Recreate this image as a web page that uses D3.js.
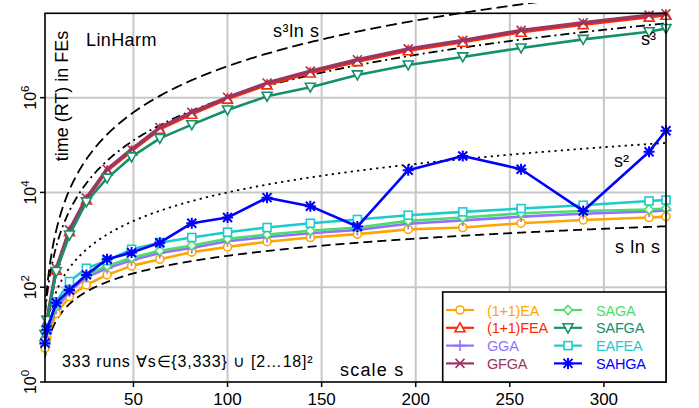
<!DOCTYPE html>
<html><head><meta charset="utf-8">
<script src="https://cdn.jsdelivr.net/npm/d3@7"></script>
<style>
html,body{margin:0;padding:0;background:#fff;}
svg{display:block;font-family:"Liberation Sans",Arial,Helvetica,sans-serif;}
</style></head>
<body><svg id="c" width="699" height="408"></svg>
<script>
// ---- data ----
const scales = [3,4,9,16,25,36,49,64,81,100,121,144,169,196,225,256,289,324,333];
const ea     = [5.2,8.9,28,63,112,182,282,389,550,708,912,1120,1320,1660,1820,2240,2630,2950,3090];
const fea    = [9,18,229,1480,6920,28200,74100,214000,447000,933000,1.86e6,3.31e6,5.75e6,9.77e6,1.48e7,2.40e7,3.47e7,5.01e7,5.50e7];
const gga    = [6.3,11,35,81,162,251,372,525,676,933,1150,1380,1620,2190,2570,3090,3550,3980,4170];
const gfga   = [10,20,251,1620,7590,30900,81300,234000,490000,1.02e6,2.04e6,3.63e6,6.31e6,1.07e7,1.62e7,2.63e7,3.80e7,5.50e7,5.90e7];
const saga   = [7.1,12,40,91,182,282,417,589,759,1050,1290,1550,1820,2510,2950,3630,4070,4370,4570];
const safga  = [10,20,214,1260,6310,20000,56200,138000,269000,550000,1.07e6,1.66e6,3.02e6,4.90e6,7.24e6,1.12e7,1.70e7,2.45e7,2.88e7];
const eafea  = [7.1,13,49,132,251,363,631,871,1120,1450,1820,2240,2690,3310,3890,4570,5370,6610,6920];
const sahga  = [6.6,12.6,47,87,182,389,537,871,2240,2950,7760,5130,1910,29500,58900,30900,4070,72400,200000];
const seriesNames = ["(1+1)EA","(1+1)FEA","GGA","GFGA","SAGA","SAFGA","EAFEA","SAHGA"];
const seriesData  = [ea,fea,gga,gfga,saga,safga,eafea,sahga];
const seriesColors = ["#ffa500","#ff2a00","#9370ff","#9b3563","#4cdc6c","#14906a","#1ccccc","#0000ff"];
const seriesMarks  = ["circle","triUp","plus","cross","diamond","triDown","square","star"];
const xTicks = [50,100,150,200,250,300];
const yTickExps = [0,2,4,6];
const refNames = ["s³ln s","s³","s²","s ln s"];

// ---- layout ----
const svg = d3.select("#c");
const L=45, R=666, T=13.3, B=382;
const x = d3.scaleLinear().domain([3,333]).range([L,R]);
const y = d3.scaleLog().domain([1,Math.pow(10,7.78)]).range([B,T]);

// grid
const grid = svg.append("g").attr("stroke","#c8c8c8").attr("stroke-width",2);
xTicks.forEach(t=>grid.append("line").attr("x1",x(t)).attr("x2",x(t)).attr("y1",T).attr("y2",B));
yTickExps.filter(e=>e>0).forEach(e=>grid.append("line").attr("x1",L).attr("x2",R).attr("y1",y(Math.pow(10,e))).attr("y2",y(Math.pow(10,e))));

// clip
svg.append("clipPath").attr("id","cl").append("rect").attr("x",L).attr("y",3).attr("width",R-L+20).attr("height",B-3);

// reference curves
const dense = d3.range(3,333.01,0.5);
const refFns = [s=>s*s*s*Math.log(s), s=>s*s*s, s=>s*s, s=>s*Math.log(s)];
const refDash = ["11,5","9,4,2,4","2.2,4.2","9,5"];
const line = d3.line().x(d=>x(d[0])).y(d=>y(d[1]));
const rg = svg.append("g").attr("clip-path","url(#cl)");
refFns.forEach((f,i)=>{
  rg.append("path").attr("d",line(dense.map(s=>[s,f(s)]))).attr("fill","none")
    .attr("stroke","#000").attr("stroke-width",1.8).attr("stroke-dasharray",refDash[i]);
});

// marker generator
function marker(g,type,col,cx,cy){
  const r=4.5;
  const st={stroke:col,"stroke-width":1.6,fill:"#fff"};
  let el;
  if(type==="circle") el=g.append("circle").attr("cx",cx).attr("cy",cy).attr("r",r-0.5);
  else if(type==="triUp") el=g.append("path").attr("d",`M${cx},${cy-r-0.5}L${cx+r+0.5},${cy+r-0.5}L${cx-r-0.5},${cy+r-0.5}Z`);
  else if(type==="triDown") el=g.append("path").attr("d",`M${cx},${cy+r+0.5}L${cx+r+0.5},${cy-r+0.5}L${cx-r-0.5},${cy-r+0.5}Z`);
  else if(type==="diamond") el=g.append("path").attr("d",`M${cx},${cy-r}L${cx+r},${cy}L${cx},${cy+r}L${cx-r},${cy}Z`);
  else if(type==="square") el=g.append("rect").attr("x",cx-r+0.5).attr("y",cy-r+0.5).attr("width",2*r-1).attr("height",2*r-1);
  else if(type==="plus") {el=g.append("path").attr("d",`M${cx-r-1},${cy}H${cx+r+1}M${cx},${cy-r-1}V${cy+r+1}`); st.fill="none";}
  else if(type==="cross") {el=g.append("path").attr("d",`M${cx-r},${cy-r}L${cx+r},${cy+r}M${cx-r},${cy+r}L${cx+r},${cy-r}`); st.fill="none";}
  else if(type==="star") {el=g.append("path").attr("d",`M${cx-r-1},${cy}H${cx+r+1}M${cx},${cy-r-1}V${cy+r+1}M${cx-r},${cy-r}L${cx+r},${cy+r}M${cx-r},${cy+r}L${cx+r},${cy-r}`); st.fill="none"; st["stroke-width"]=2;}
  Object.entries(st).forEach(([k,v])=>el.attr(k,v));
}

// series
const dg = svg.append("g");
seriesData.forEach((vals,i)=>{
  const pts = scales.map((s,j)=>[s,vals[j]]);
  dg.append("path").attr("d",line(pts)).attr("fill","none").attr("stroke",seriesColors[i])
    .attr("stroke-width",i===3?3.4:2.6).attr("stroke-linejoin","round");
  pts.forEach(p=>marker(dg,seriesMarks[i],seriesColors[i],x(p[0]),y(p[1])));
});

// frame
svg.append("rect").attr("x",L).attr("y",T).attr("width",R-L).attr("height",B-T)
  .attr("fill","none").attr("stroke","#000").attr("stroke-width",1.6);

// x axis ticks
xTicks.forEach(t=>{
  svg.append("line").attr("x1",x(t)).attr("x2",x(t)).attr("y1",B).attr("y2",B+5).attr("stroke","#000").attr("stroke-width",1.5);
  svg.append("text").attr("x",x(t)).attr("y",404.5).attr("text-anchor","middle").attr("font-size",17).text(t);
});
// y axis ticks
yTickExps.forEach(e=>{
  const yy=y(Math.pow(10,e));
  svg.append("line").attr("x1",L-5).attr("x2",L).attr("y1",yy).attr("y2",yy).attr("stroke","#000").attr("stroke-width",1.5);
  const t=svg.append("text").attr("transform",`translate(35.5,${yy}) rotate(-90)`).attr("text-anchor","middle").attr("font-size",16);
  t.append("tspan").text("10");
  t.append("tspan").attr("dy",-7).attr("font-size",11.5).text(e);
});

// labels
svg.append("text").attr("transform","translate(68,96) rotate(-90)").attr("text-anchor","middle").attr("font-size",18).text("time (RT) in FEs");
svg.append("text").attr("x",86).attr("y",46).attr("font-size",18).attr("letter-spacing",0.4).text("LinHarm");
svg.append("text").attr("x",62).attr("y",367).attr("font-size",16).attr("letter-spacing",0.8).text("333 runs ∀s∈{3,333} ∪ [2…18]²");
svg.append("text").attr("x",340).attr("y",376).attr("font-size",18).attr("letter-spacing",1.2).text("scale s");
svg.append("text").attr("x",273).attr("y",37).attr("font-size",18).attr("letter-spacing",0.6).text(refNames[0]);
svg.append("text").attr("x",641).attr("y",45).attr("font-size",18).text(refNames[1]);
svg.append("text").attr("x",614).attr("y",167).attr("font-size",18).text(refNames[2]);
svg.append("text").attr("x",615).attr("y",253).attr("font-size",18).attr("letter-spacing",0.6).text(refNames[3]);

// legend
const lg = svg.append("g");
lg.append("rect").attr("x",442.7).attr("y",292).attr("width",666-442.7).attr("height",90)
  .attr("fill","#fff").attr("stroke","#000").attr("stroke-width",1.6);
seriesNames.forEach((n,i)=>{
  const col=Math.floor(i/4), row=i%4;
  const yy = 310 + row*17.8;
  const x0 = col===0?446:554;
  lg.append("line").attr("x1",x0).attr("x2",x0+28).attr("y1",yy).attr("y2",yy).attr("stroke",seriesColors[i]).attr("stroke-width",2.2);
  marker(lg,seriesMarks[i],seriesColors[i],x0+14,yy);
  lg.append("text").attr("x",col===0?487:596).attr("y",yy+5.5).attr("font-size",14.5).attr("letter-spacing",-0.2).attr("fill",seriesColors[i]).text(n);
});
</script></body></html>
